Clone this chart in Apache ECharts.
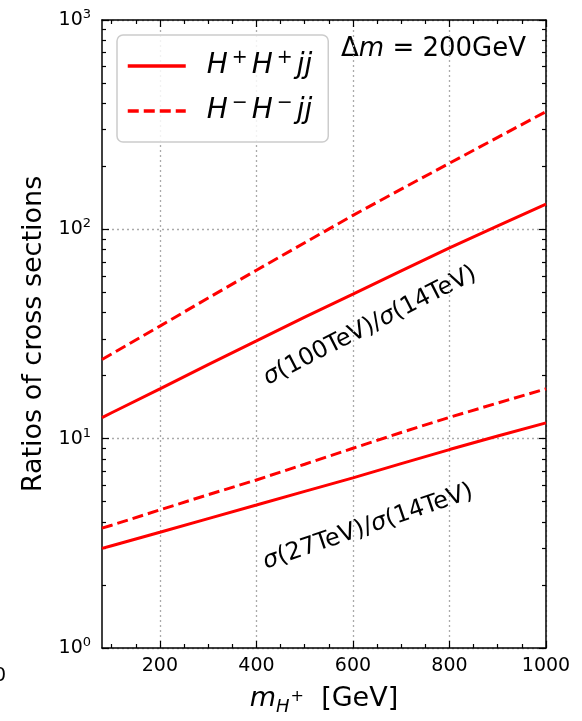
<!DOCTYPE html>
<html>
<head>
  <meta charset="utf-8">
  <title>Ratios of cross sections</title>
  <style>
    html, body { margin: 0; padding: 0; background: #fff; }
    #chart { width: 582px; height: 721px; }
  </style>
</head>
<body>
  <div id="chart"></div>
  <script src="https://cdn.jsdelivr.net/npm/echarts@6/dist/echarts.min.js"></script>
  <script>
    // charged Higgs mass [GeV]
    const masses = [80, 100, 200, 300, 400, 500, 600, 700, 800, 900, 1000];
    // sigma(100TeV)/sigma(14TeV)
    const ratio100PP = [12.6, 13.3, 17.3, 22.6, 29.3, 38.1, 49, 63.3, 81.5, 104, 132];
    const ratio100MM = [23.9, 25.4, 34.5, 47, 63.8, 86.3, 116.6, 155.6, 207, 275, 365];
    // sigma(27TeV)/sigma(14TeV)
    const ratio27PP = [2.99, 3.08, 3.57, 4.15, 4.82, 5.6, 6.5, 7.6, 8.87, 10.3, 11.9];
    const ratio27MM = [3.74, 3.86, 4.57, 5.4, 6.35, 7.55, 9.0, 10.7, 12.65, 14.8, 17.3];

    // ticks
    const xMajor = [200, 400, 600, 800, 1000];
    const xMinor = [100, 150, 250, 300, 350, 450, 500, 550, 650, 700, 750, 850, 900, 950];
    const yMinor = [2, 3, 4, 5, 6, 7, 8, 9, 20, 30, 40, 50, 60, 70, 80, 90, 200, 300, 400, 500, 600, 700, 800, 900];

    const FONT = 'DejaVu Sans';
    const RED = '#ff0000';
    const DASH = [11, 5];
    const pairs = arr => masses.map((m, i) => [m, arr[i]]);

    // 轴的公共部分
    const tickStyle = { color: '#000', width: 1.2 };
    function xAxisOf(position, values, len, main) {
      return {
        type: 'value', min: 80, max: 1000, position,
        axisLine: { show: main, onZero: false, lineStyle: { color: '#000', width: 1.5 } },
        axisTick: { show: true, inside: true, length: len, customValues: values, lineStyle: tickStyle },
        axisLabel: {
          show: main && position === 'bottom', customValues: xMajor,
          formatter: v => String(v),
          fontSize: 19, color: '#000', fontFamily: FONT, margin: 9
        },
        splitLine: {
          show: main && position === 'bottom',
          lineStyle: { type: [2, 3], color: '#aaaaaa', width: 1.3 }
        }
      };
    }
    function yMinorAxis(position) {
      return {
        type: 'value', min: 0, max: 3, position,
        axisLine: { show: false },
        axisTick: { show: true, inside: true, length: 4, customValues: yMinor.map(Math.log10), lineStyle: tickStyle },
        axisLabel: { show: false },
        splitLine: { show: false }
      };
    }

    const option = {
      animation: false,
      textStyle: { fontFamily: FONT },
      grid: { left: 102, right: 36, top: 20, bottom: 71 },
      legend: {
        orient: 'vertical',
        left: 117, top: 35,
        data: ['pp', 'mm'],
        itemWidth: 58, itemHeight: 18, itemGap: 14,
        padding: [14, 16, 17, 9],
        borderColor: '#cccccc', borderWidth: 1.5, borderRadius: 6,
        backgroundColor: 'rgba(255,255,255,0.85)',
        itemStyle: { color: 'rgba(0,0,0,0)', borderWidth: 0, opacity: 0 },
        lineStyle: { width: 3.5 },
        formatter: name => name === 'pp'
          ? '{i|H}{s|+}{i|H}{s|+}{i|jj}'
          : '{i|H}{s|−}{i|H}{s|−}{i|jj}',
        textStyle: {
          padding: [0, 0, 0, 16],
          rich: {
            i: { fontStyle: 'italic', fontSize: 28, fontFamily: FONT, color: '#000', lineHeight: 34 },
            s: { fontSize: 19, fontFamily: FONT, color: '#000', verticalAlign: 'top', lineHeight: 20, padding: [0, 4, 0, 4] }
          }
        }
      },
      xAxis: [
        Object.assign(xAxisOf('bottom', xMajor, 7, true), {
          name: '{i|m}{sub|H}{sup|+}{n|  [GeV]}',
          nameLocation: 'middle',
          nameGap: 34,
          nameTextStyle: {
            rich: {
              i: { fontStyle: 'italic', fontSize: 27, fontFamily: FONT, color: '#000', lineHeight: 34 },
              sub: { fontStyle: 'italic', fontSize: 18, fontFamily: FONT, color: '#000', verticalAlign: 'bottom', lineHeight: 18 },
              sup: { fontSize: 16, fontFamily: FONT, color: '#000', verticalAlign: 'middle', lineHeight: 16, padding: [0, 0, 4, 1] },
              n: { fontSize: 27, fontFamily: FONT, color: '#000', lineHeight: 34 }
            }
          }
        }),
        xAxisOf('bottom', xMinor, 4, false),
        xAxisOf('top', xMajor, 7, true),
        xAxisOf('top', xMinor, 4, false)
      ],
      yAxis: [
        {
          type: 'log', logBase: 10, min: 1, max: 1000, position: 'left',
          name: 'Ratios of cross sections',
          nameLocation: 'middle', nameGap: 43,
          nameTextStyle: { fontSize: 27, color: '#000', fontFamily: FONT },
          axisLine: { show: true, lineStyle: { color: '#000', width: 1.5 } },
          axisTick: { show: true, inside: true, length: 7, lineStyle: tickStyle },
          axisLabel: {
            margin: 11,
            formatter: v => '{b|10}{s|' + Math.round(Math.log10(v)) + '}',
            rich: {
              b: { fontSize: 19, color: '#000', fontFamily: FONT, lineHeight: 24 },
              s: { fontSize: 13, color: '#000', fontFamily: FONT, verticalAlign: 'top', lineHeight: 13 }
            }
          },
          splitLine: { show: true, lineStyle: { type: [2, 3], color: '#aaaaaa', width: 1.3 } }
        },
        {
          type: 'log', logBase: 10, min: 1, max: 1000, position: 'right',
          axisLine: { show: true, lineStyle: { color: '#000', width: 1.5 } },
          axisTick: { show: true, inside: true, length: 7, lineStyle: tickStyle },
          axisLabel: { show: false },
          splitLine: { show: false }
        },
        yMinorAxis('left'),
        yMinorAxis('right')
      ],
      graphic: [
        {
          type: 'text', left: 341, top: 36,
          style: {
            text: '{n|Δ}{i|m}{n| = 200GeV}',
            rich: {
              n: { fontSize: 26, fontFamily: FONT, fill: '#000' },
              i: { fontSize: 26, fontFamily: FONT, fontStyle: 'italic', fill: '#000' }
            }
          }
        },
        {
          type: 'text', x: 370, y: 326, rotation: 27 * Math.PI / 180,
          style: {
            text: '{i|σ}{n|(100TeV)/}{i|σ}{n|(14TeV)}',
            align: 'center', verticalAlign: 'middle',
            rich: {
              n: { fontSize: 24, fontFamily: FONT, fill: '#000' },
              i: { fontSize: 24, fontFamily: FONT, fontStyle: 'italic', fill: '#000' }
            }
          }
        },
        {
          type: 'text', x: 368, y: 527, rotation: 19 * Math.PI / 180,
          style: {
            text: '{i|σ}{n|(27TeV)/}{i|σ}{n|(14TeV)}',
            align: 'center', verticalAlign: 'middle',
            rich: {
              n: { fontSize: 24, fontFamily: FONT, fill: '#000' },
              i: { fontSize: 24, fontFamily: FONT, fontStyle: 'italic', fill: '#000' }
            }
          }
        },
        {
          type: 'text', left: -6, top: 667,
          style: { text: '0', fontSize: 19, fontFamily: FONT, fill: '#000' }
        }
      ],
      series: [
        { name: 'pp', type: 'line', data: pairs(ratio100PP), symbol: 'none', lineStyle: { color: RED, width: 3 }, itemStyle: { color: RED } },
        { name: 'mm', type: 'line', data: pairs(ratio100MM), symbol: 'none', lineStyle: { color: RED, width: 3, type: DASH }, itemStyle: { color: RED } },
        { name: 'pp', type: 'line', data: pairs(ratio27PP), symbol: 'none', lineStyle: { color: RED, width: 3 }, itemStyle: { color: RED } },
        { name: 'mm', type: 'line', data: pairs(ratio27MM), symbol: 'none', lineStyle: { color: RED, width: 3, type: DASH }, itemStyle: { color: RED } }
      ]
    };

    const myChart = echarts.init(document.getElementById('chart'));
    myChart.setOption(option);
  </script>
</body>
</html>
